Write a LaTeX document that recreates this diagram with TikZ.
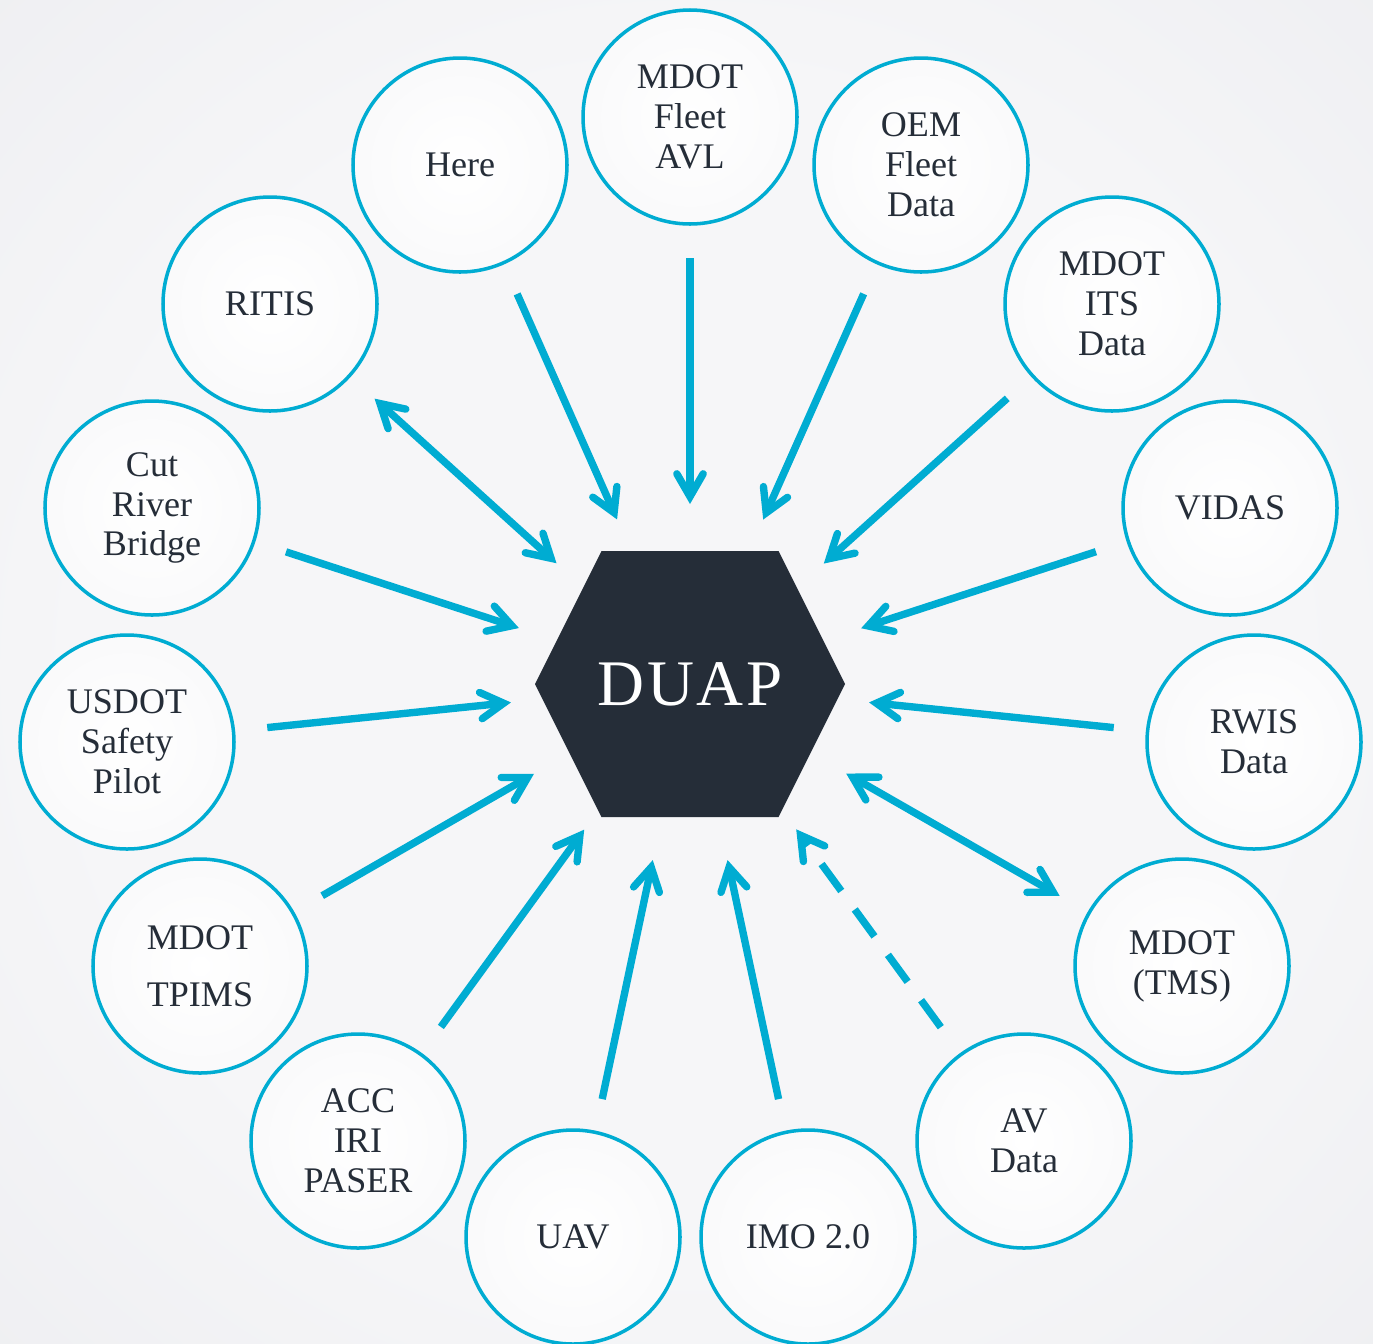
\documentclass[tikz,border=0pt]{standalone}
\usepackage{fontspec}
\setmainfont{Liberation Serif}
\usepackage{xcolor}
\usetikzlibrary{arrows.meta}

\definecolor{duapcyan}{RGB}{0,172,210}
\definecolor{duapdark}{RGB}{37,45,56}
\definecolor{bgin}{RGB}{246,246,248}
\definecolor{bgout}{RGB}{224,225,229}

\pgfdeclareradialshading{bgglow}{\pgfpoint{0bp}{0bp}}{color(0bp)=(bgin); color(22bp)=(bgin); color(66bp)=(bgout)}

\tikzset{
	src/.style={circle, draw=duapcyan, line width=2pt, shade, inner color=white, outer color=white!40!bgin,
		minimum size=4.28cm, inner sep=0pt, outer sep=0.68cm, align=center, text=duapdark,
		font=\fontsize{20.5}{22.7}\selectfont},
	hub/.style={circle, minimum size=7.2cm, inner sep=0pt, outer sep=0pt, text=white,
		font=\fontsize{37}{40}\selectfont},
	flowtip/.tip={Straight Barb[length=13pt, width=15pt, line cap=round]},
	flow/.style={draw=duapcyan, line width=4.2pt, -flowtip},
	flowboth/.style={flow, flowtip-flowtip},
}

\begin{document}
\begin{tikzpicture}
	% Background
	\useasboundingbox (0,0) rectangle (27.46,-26.86);
	\shade[shading=bgglow] (0,0) rectangle (27.46,-26.86);

	% Hexagon
	\fill[duapdark] (13.80,-13.68) ++(-3.10,0) -- ++(1.33,2.66) -- ++(3.54,0) -- ++(1.33,-2.66)
		-- ++(-1.33,-2.66) -- ++(-3.54,0) -- cycle;
	\node[hub] (duap) at (13.80,-13.68) {D\kern1.5pt U\kern1.5pt A\kern1.5pt P};

	% Data sources
	\foreach \nm/\x/\y/\txt in {
			here/9.20/-3.30/{Here},
			fleet/13.80/-2.34/{MDOT\\Fleet\\AVL},
			oem/18.42/-3.30/{OEM\\Fleet\\Data},
			its/22.24/-6.08/{MDOT\\ITS\\Data},
			vidas/24.60/-10.16/{VIDAS},
			rwis/25.08/-14.84/{RWIS\\Data},
			tms/23.64/-19.32/{MDOT\\(TMS)},
			av/20.48/-22.82/{AV\\Data},
			imo/16.16/-24.74/{IMO 2.0},
			uav/11.46/-24.74/{UAV},
			acc/7.16/-22.82/{ACC\\IRI\\PASER},
			tpims/4.00/-19.32/{MDOT\\[0.34cm]TPIMS},
			usdot/2.54/-14.84/{USDOT\\Safety\\Pilot},
			cut/3.04/-10.16/{Cut\\River\\Bridge},
			ritis/5.40/-6.08/{RITIS}} {
		\node[src] (\nm) at (\x,\y) {\txt};
	}

	% Arrows into DUAP
	\foreach \nm in {here,fleet,oem,its,vidas,rwis,imo,uav,acc,tpims,usdot,cut} {
		\draw[flow] (\nm) -- (duap);
	}
	\draw[flowboth] (ritis) -- (duap);
	\draw[flowboth] (tms) -- (duap);
	\draw[flow, dash pattern=on 19pt off 13pt] (av) -- (duap);
\end{tikzpicture}
\end{document}
